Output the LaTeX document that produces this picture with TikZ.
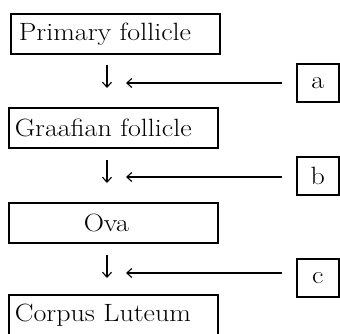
\documentclass[tikz,border=0pt]{standalone}
\usetikzlibrary{arrows.meta}
\newcommand{\wtxt}[1]{\scalebox{1.12}[1]{#1}}
\begin{document}
\begin{tikzpicture}[x=1pt,y=-1pt,
  bigbox/.style={draw,line width=1.6pt,minimum width=209pt,minimum height=40pt,
    inner xsep=0pt,inner ysep=0pt,font=\fontsize{25}{29}\selectfont},
  smallbox/.style={draw,line width=1.6pt,minimum width=42pt,minimum height=38pt,
    inner sep=0pt,font=\fontsize{25}{29}\selectfont},
  arr/.style={line width=1.1pt,-{Straight Barb[length=5pt,width=9pt]}}]
\useasboundingbox (0,0) rectangle (340,333);
\clip (0,0) rectangle (340,333);
\node[bigbox,anchor=north west] (b1) at (10,13) {\makebox[193pt][l]{\wtxt{Primary follicle}}};
\node[bigbox,anchor=north west] (b2) at (8,107) {\makebox[197pt][l]{\wtxt{Graafian follicle}}};
\node[bigbox,anchor=north west] (b3) at (8,202) {\makebox[209pt][l]{\hspace{75pt}\wtxt{Ova}}};
\node[bigbox,anchor=north west,minimum height=42pt] (b4) at (8,294) {\makebox[197pt][l]{\wtxt{Corpus Luteum}}\rule[-7pt]{0pt}{1pt}};
\node[smallbox,anchor=north west] (a) at (296,63) {\wtxt{a}};
\node[smallbox,anchor=north west] (b) at (296,156) {\wtxt{b}};
\node[smallbox,anchor=north west] (c) at (296,258) {\wtxt{c}};
\coordinate (d1s) at (107,65); \coordinate (d1e) at (107,88);
\coordinate (d2s) at (107,160); \coordinate (d2e) at (107,183);
\coordinate (d3s) at (107,255); \coordinate (d3e) at (107,278);
\coordinate (h1) at (126,83);
\coordinate (h2) at (126,177);
\coordinate (h3) at (126,273);
\draw[arr] (d1s) -- (d1e);
\draw[arr] (d2s) -- (d2e);
\draw[arr] (d3s) -- (d3e);
\draw[arr] (282,83) coordinate (a0) -- (h1);
\draw[arr] (282,177) coordinate (b0) -- (h2);
\draw[arr] (282,273) coordinate (c0) -- (h3);
\end{tikzpicture}
\end{document}
